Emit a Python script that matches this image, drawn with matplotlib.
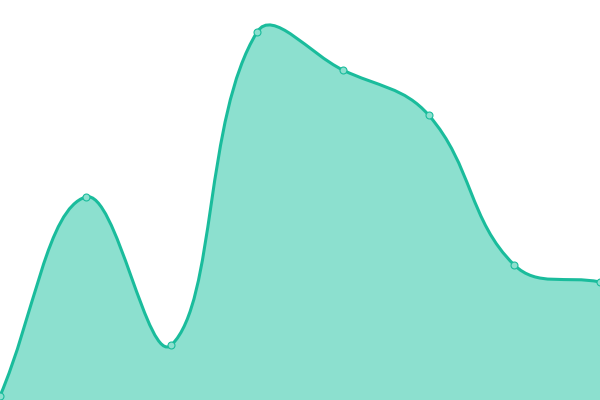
import numpy as np
import matplotlib
matplotlib.use("Agg")
import matplotlib.pyplot as plt
from matplotlib.path import Path
from matplotlib.patches import PathPatch

# data (height above the bottom edge)
labels = ["1", "2", "3", "4", "5", "6", "7", "8"]
values = [4, 203, 55, 368, 330, 285, 135, 118]

line_color = "#1abc9c"
fill_color = "#8ce0cf"
tension = 0.4

fig = plt.figure(figsize=(6, 4), dpi=100)
ax = fig.add_axes([0, 0, 1, 1])
ax.set_xlim(0, len(values) - 1)
ax.set_ylim(0, 400)
ax.axis("off")

# work in pixels so the spline matches a canvas-style curve
xs = np.arange(len(values)) * 600 / (len(values) - 1)
ys = np.array(values, dtype=float)
sx = (len(values) - 1) / 600


def spline(xs, ys, t):
    n = len(xs)
    cps = []
    for i in range(n):
        p0 = np.array([xs[max(i - 1, 0)], ys[max(i - 1, 0)]])
        p1 = np.array([xs[i], ys[i]])
        p2 = np.array([xs[min(i + 1, n - 1)], ys[min(i + 1, n - 1)]])
        d01 = np.hypot(*(p1 - p0))
        d12 = np.hypot(*(p2 - p1))
        tot = d01 + d12
        s01 = d01 / tot if tot else 0
        s12 = d12 / tot if tot else 0
        prev_cp = p1 - t * s01 * (p2 - p0)
        next_cp = p1 + t * s12 * (p2 - p0)
        prev_cp[0] = min(max(prev_cp[0], 0), 600)
        next_cp[0] = min(max(next_cp[0], 0), 600)
        prev_cp[1] = min(max(prev_cp[1], 0), 400)
        next_cp[1] = min(max(next_cp[1], 0), 400)
        cps.append((prev_cp, next_cp))
    verts = [(xs[0], ys[0])]
    codes = [Path.MOVETO]
    for i in range(1, n):
        verts += [tuple(cps[i - 1][1]), tuple(cps[i][0]), (xs[i], ys[i])]
        codes += [Path.CURVE4] * 3
    return verts, codes


verts, codes = spline(xs, ys, tension)
verts = [(x * sx, y) for x, y in verts]

fill_verts = verts + [(verts[-1][0], 0), (verts[0][0], 0), verts[0]]
fill_codes = codes + [Path.LINETO, Path.LINETO, Path.CLOSEPOLY]
ax.add_patch(PathPatch(Path(fill_verts, fill_codes), facecolor=fill_color,
                       edgecolor="none"))
ax.add_patch(PathPatch(Path(verts, codes), facecolor="none",
                       edgecolor=line_color, lw=2.2, capstyle="round"))

ax.plot(np.arange(len(values)), values, "o", ms=5, mfc=fill_color,
        mec=line_color, mew=0.8, clip_on=False)

fig.savefig("out.png", dpi=100)
